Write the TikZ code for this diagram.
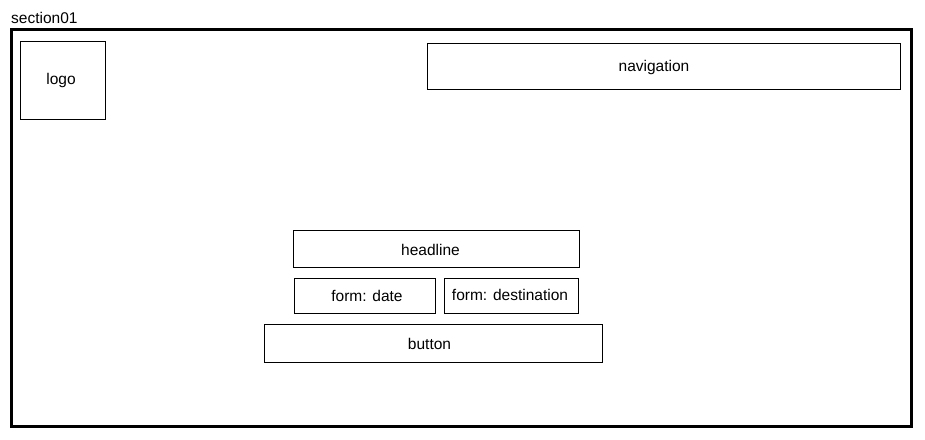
\documentclass[tikz,border=0pt]{standalone}
\usepackage{fontspec}
\setmainfont{Liberation Sans}
\begin{document}
\begin{tikzpicture}[x=1pt,y=-1pt,
  box/.style={draw=black,line width=1pt,fill=white},
  lbl/.style={font=\fontsize{15.5}{17}\selectfont,text=black,inner sep=0pt}]
\useasboundingbox (0,0) rectangle (925,439);
\fill[white] (0,0) rectangle (925,439);
\node[lbl,anchor=base west] (title) at (11,23.5) {section01};
\draw[line width=3pt] (11.5,29.5) rectangle (911.5,426.5);
\coordinate (frame) at (11,29);
\draw[box] (20,41) rectangle (105,119);
\node[lbl] (logo) at (61,80) {logo};
\draw[box] (427,43) rectangle (900,89);
\node[lbl] (nav) at (654,67) {navigation};
\draw[box] (293,230) rectangle (579,267);
\node[lbl] (headline) at (430.5,250) {headline};
\draw[box] (294,278) rectangle (435,313);
\node[lbl] (date) at (367,296) {form: date};
\draw[box] (444,278) rectangle (578,313);
\node[lbl] (dest) at (510,295) {form: destination};
\draw[box] (264,324) rectangle (602,362);
\node[lbl] (button) at (429.5,344) {button};
\end{tikzpicture}
\end{document}
